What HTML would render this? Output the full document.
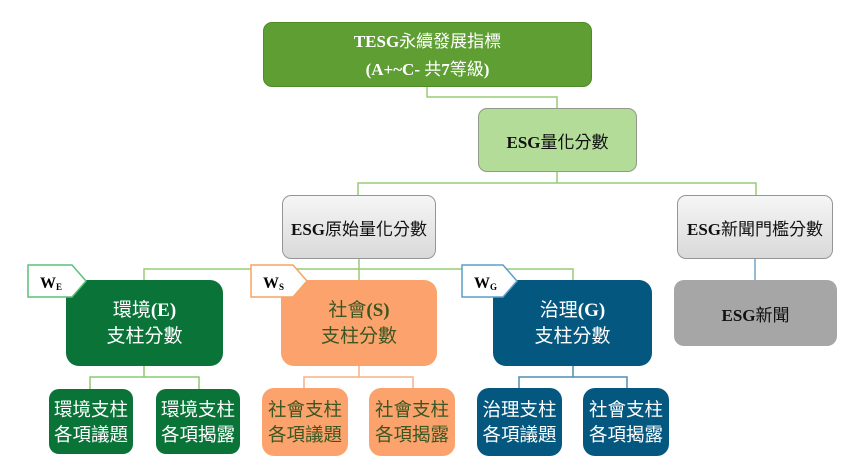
<!DOCTYPE html>
<html>
<head>
<meta charset="utf-8">
<style>
  html,body{margin:0;padding:0;background:#fff;}
  body{width:865px;height:476px;position:relative;overflow:hidden;
       font-family:"Liberation Serif","Noto Sans CJK TC",serif;}
  .b{position:absolute;box-sizing:border-box;display:flex;align-items:center;justify-content:center;text-align:center;}
  .lat{font-family:"Liberation Serif",serif;font-weight:bold;}
  .cjk{font-family:"Noto Sans CJK TC","Noto Sans CJK SC",sans-serif;font-weight:normal;}
  svg{position:absolute;left:0;top:0;}
</style>
</head>
<body>
<svg width="865" height="476" viewBox="0 0 865 476">
  <g fill="none" stroke-width="1.5">
    <polyline points="427,87 427,97 557,97 557,108" stroke="#96cc75"/>
    <polyline points="557,172 557,183" stroke="#96cc75"/>
    <polyline points="358,195 358,183 756,183 756,195" stroke="#96cc75"/>
    <polyline points="359,259 359,280" stroke="#96cc75"/>
    <polyline points="144,280 144,269 573,269 573,280" stroke="#96cc75"/>
    <polyline points="755,259 755,280" stroke="#6ea7c7"/>
    <polyline points="144,366 144,377" stroke="#8cc870"/>
    <polyline points="90,389 90,377 199,377 199,389" stroke="#8cc870"/>
    <polyline points="359,366 359,377" stroke="#f8b183"/>
    <polyline points="304,388 304,377 413,377 413,388" stroke="#f8b183"/>
    <polyline points="573,366 573,377" stroke="#4d8db3"/>
    <polyline points="519,388 519,377 627,377 627,388" stroke="#4d8db3"/>
  </g>
</svg>

<!-- top -->
<div class="b" style="left:263px;top:22px;width:329px;height:65px;background:#5e9e33;border:1px solid #4f8a2b;border-radius:9px;color:#fff;font-size:17px;line-height:26px;">
  <div><span class="lat">TESG</span><span class="cjk">永續發展指標</span><br><span class="lat">(A+~C- </span><span class="cjk">共</span><span class="lat">7</span><span class="cjk">等級</span><span class="lat">)</span></div>
</div>

<div class="b" style="left:478px;top:108px;width:159px;height:64px;background:#b3dc98;border:1px solid #8f9a88;border-radius:9px;color:#111;font-size:17px;">
  <div><span class="lat">ESG</span><span class="cjk">量化分數</span></div>
</div>

<div class="b" style="left:282px;top:195px;width:154px;height:64px;background:linear-gradient(#f6f6f6,#d9d9d9);border:1px solid #959595;border-radius:9px;color:#111;font-size:17px;">
  <div><span class="lat">ESG</span><span class="cjk">原始量化分數</span></div>
</div>

<div class="b" style="left:677px;top:195px;width:156px;height:64px;background:linear-gradient(#f6f6f6,#d9d9d9);border:1px solid #959595;border-radius:9px;color:#111;font-size:17px;">
  <div><span class="lat">ESG</span><span class="cjk">新聞門檻分數</span></div>
</div>

<div class="b" style="left:674px;top:280px;width:163px;height:66px;background:#a6a6a6;border-radius:10px;color:#111;font-size:17px;">
  <div><span class="lat">ESG</span><span class="cjk">新聞</span></div>
</div>

<!-- pillars -->
<div class="b" style="left:66px;top:280px;width:157px;height:86px;background:#0a7338;border-radius:13px;color:#fff;font-size:19px;line-height:24px;">
  <div><span class="cjk">環境</span><span class="lat">(E)</span><br><span class="cjk">支柱分數</span></div>
</div>
<div class="b" style="left:281px;top:280px;width:156px;height:86px;background:#fca36d;border-radius:13px;color:#3b5621;font-size:19px;line-height:24px;">
  <div><span class="cjk">社會</span><span class="lat">(S)</span><br><span class="cjk">支柱分數</span></div>
</div>
<div class="b" style="left:493px;top:280px;width:159px;height:86px;background:#04577f;border-radius:13px;color:#fff;font-size:19px;line-height:24px;">
  <div><span class="cjk">治理</span><span class="lat">(G)</span><br><span class="cjk">支柱分數</span></div>
</div>

<!-- leaves -->
<div class="b cjk" style="left:49px;top:389px;width:84px;height:65px;background:#0a7338;border-radius:10px;color:#fff;font-size:18.5px;line-height:25px;">環境支柱<br>各項議題</div>
<div class="b cjk" style="left:156px;top:389px;width:84px;height:65px;background:#0a7338;border-radius:10px;color:#fff;font-size:18.5px;line-height:25px;">環境支柱<br>各項揭露</div>

<div class="b cjk" style="left:262px;top:388px;width:86px;height:68px;background:#fca36d;border-radius:12px;color:#3b5621;font-size:18.5px;line-height:25px;">社會支柱<br>各項議題</div>
<div class="b cjk" style="left:369px;top:388px;width:86px;height:68px;background:#fca36d;border-radius:12px;color:#3b5621;font-size:18.5px;line-height:25px;">社會支柱<br>各項揭露</div>

<div class="b cjk" style="left:477px;top:388px;width:85px;height:68px;background:#04577f;border-radius:12px;color:#fff;font-size:18.5px;line-height:25px;">治理支柱<br>各項議題</div>
<div class="b cjk" style="left:583px;top:388px;width:86px;height:68px;background:#04577f;border-radius:12px;color:#fff;font-size:18.5px;line-height:25px;">社會支柱<br>各項揭露</div>

<!-- tags on top -->
<svg width="865" height="476" viewBox="0 0 865 476">
  <polygon points="28,265 72,265 86,281 72,297 28,297" fill="#fff" stroke="#5cbf7a" stroke-width="1.5"/>
  <polygon points="251,265 293,265 307,281 293,297 251,297" fill="#fff" stroke="#f7a45f" stroke-width="1.5"/>
  <polygon points="462,265 503,265 517,281 503,297 462,297" fill="#fff" stroke="#5a9fc8" stroke-width="1.5"/>
  <g font-family="Liberation Serif, serif" font-weight="bold" fill="#000">
    <text x="40" y="288" font-size="16">W<tspan font-size="9" dy="2">E</tspan></text>
    <text x="263" y="288" font-size="16">W<tspan font-size="9" dy="2">S</tspan></text>
    <text x="474" y="288" font-size="16">W<tspan font-size="9" dy="2">G</tspan></text>
  </g>
</svg>

</body>
</html>
